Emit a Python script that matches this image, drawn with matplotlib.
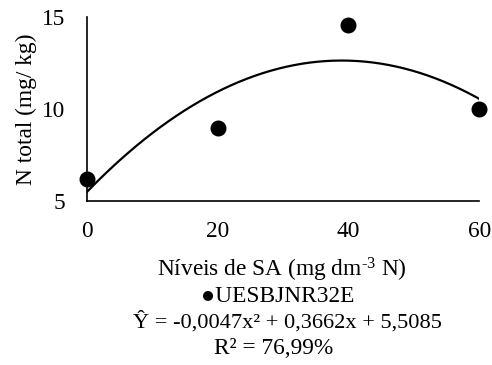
import numpy as np
import matplotlib
matplotlib.use("Agg")
import matplotlib.pyplot as plt

plt.rcParams["font.family"] = ["Liberation Serif", "DejaVu Serif"]
plt.rcParams["mathtext.fontset"] = "custom"
plt.rcParams["mathtext.rm"] = "Liberation Serif"
plt.rcParams["mathtext.it"] = "Liberation Serif:italic"

# observed data
doses = [0, 20, 40, 60]
n_total = [6.2, 9.0, 14.6, 10.0]

# quadratic fit shown on chart
coef = [-0.0047, 0.3662, 5.5085]
xticks = [0, 20, 40, 60]
yticks = [5, 10, 15]

fs = 16.8
fig = plt.figure(figsize=(4.92, 3.65), dpi=100)
ax = fig.add_axes([0.177, 0.449, 0.797, 0.504])

xs = np.linspace(0, 60, 200)
ax.plot(xs, np.polyval(coef, xs), color="black", lw=1.6)
ax.plot(doses, n_total, "o", color="black", ms=10.5, clip_on=False, zorder=3)

ax.set_xlim(0, 60)
ax.set_ylim(5, 15)
ax.set_xticks(xticks)
ax.set_yticks(yticks)
ax.tick_params(length=0, labelsize=fs)
ax.tick_params(axis="x", pad=14)
ax.tick_params(axis="y", pad=16)
for s in ["top", "right"]:
    ax.spines[s].set_visible(False)
for s in ["left", "bottom"]:
    ax.spines[s].set_linewidth(1.2)
ax.set_ylabel("N total (mg/ kg)", fontsize=fs, labelpad=3)

fig.text(282 / 492, 1 - 270 / 365, r"Níveis de SA (mg dm$^{\text{-3}}$ N)", ha="center", va="center", fontsize=fs)
fig.text(278 / 492, 1 - 297 / 365, "●UESBJNR32E", ha="center", va="center", fontsize=fs)
fig.text(287 / 492, 1 - 322 / 365, "Ŷ = -0,0047x² + 0,3662x + 5,5085", ha="center", va="center", fontsize=16.1)
fig.text(274 / 492, 1 - 349 / 365, "R² = 76,99%", ha="center", va="center", fontsize=fs)

fig.savefig("out.png", dpi=100)
